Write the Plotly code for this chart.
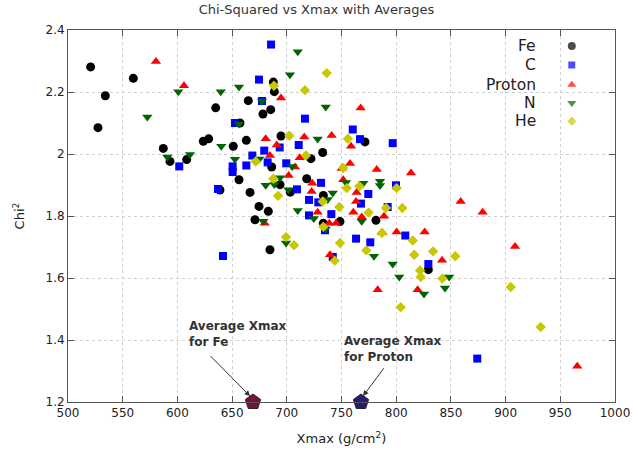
import plotly.graph_objects as go

# ---------------- data ----------------
series_names = ["Fe", "C", "Proton", "N", "He"]

fe_x = [520.7, 534.1, 527.4, 559.7, 587.1, 593.2, 608.5, 635.0, 623.7, 628.6, 651.1, 657.2, 664.8,
        687.7, 688.6, 685.3, 678.2, 663.0, 694.7, 732.8, 722.1, 686.2, 656.3, 693.8, 718.2, 703.2,
        638.9, 666.4, 733.4, 674.6, 683.1, 670.9, 684.6, 733.4, 748.6, 771.5, 781.5, 829.4]
fe_y = [2.281, 2.188, 2.085, 2.244, 2.018, 1.976, 1.982, 2.149, 2.041, 2.049, 2.025, 2.100, 2.172,
        2.232, 2.201, 2.143, 2.129, 2.044, 2.058, 2.005, 1.985, 1.958, 1.917, 1.901, 1.920, 1.877,
        1.884, 1.876, 1.866, 1.831, 1.815, 1.788, 1.691, 1.777, 1.782, 2.039, 1.786, 1.627]

c_x = [601.7, 652.6, 674.6, 677.3, 685.6, 716.6, 760.3, 693.5, 710.9, 668.5, 679.4, 682.5, 699.5,
       663.0, 650.5, 650.5, 731.3, 709.3, 637.1, 720.3, 728.8, 740.7, 720.3, 641.7, 734.9, 763.3,
       742.0, 766.9, 796.8, 799.8, 774.5, 767.8, 792.2, 808.3, 776.3, 829.4, 874.1]
c_y = [1.960, 2.100, 2.240, 2.171, 2.353, 2.114, 2.079, 2.021, 2.029, 1.995, 2.011, 1.973, 1.970,
       1.963, 1.960, 1.942, 1.907, 1.886, 1.887, 1.852, 1.844, 1.806, 1.802, 1.671, 1.754, 1.727,
       1.668, 2.048, 2.035, 1.899, 1.871, 1.840, 1.829, 1.737, 1.715, 1.645, 1.340]

p_x = [580.4, 606.0, 694.7, 716.0, 741.0, 758.7, 680.7, 690.8, 684.6, 711.8, 707.5, 701.7, 723.3,
       722.7, 728.2, 760.8, 679.8, 738.8, 745.0, 739.5, 767.5, 757.8, 782.2, 813.5, 750.2, 751.6,
       763.8, 763.3, 858.9, 879.0, 788.8, 768.5, 787.0, 800.4, 826.0, 841.9, 908.6, 783.1, 819.6, 965.5]
p_y = [2.298, 2.220, 2.181, 2.055, 2.060, 2.025, 2.049, 2.029, 1.995, 1.988, 1.958, 1.931, 1.906,
       1.879, 1.812, 1.812, 1.777, 1.777, 1.777, 1.675, 2.148, 1.969, 1.950, 1.939, 1.953, 1.917,
       1.876, 1.847, 1.847, 1.812, 1.799, 1.797, 1.747, 1.748, 1.748, 1.657, 1.702, 1.562, 1.562, 1.315]

n_x = [572.5, 590.8, 600.8, 611.5, 639.6, 656.3, 640.1, 656.3, 677.3, 710.0, 702.9, 735.6, 728.2,
       674.9, 652.6, 705.0, 680.7, 693.8, 688.6, 701.4, 742.0, 737.4, 710.0, 678.5, 699.3, 724.7,
       735.6, 754.1, 769.9, 785.2, 785.2, 768.5, 779.7, 796.8, 802.8, 848.4, 844.6, 825.4]
n_y = [2.119, 1.990, 2.201, 1.998, 2.201, 2.216, 2.025, 2.097, 2.171, 2.330, 2.256, 2.152, 2.048,
       1.984, 1.983, 1.960, 1.899, 1.923, 1.902, 1.885, 1.874, 1.853, 1.818, 1.783, 1.713, 1.792,
       1.758, 1.908, 1.906, 1.912, 1.898, 1.783, 1.670, 1.645, 1.603, 1.603, 1.568, 1.548]

he_x = [688.3, 716.6, 736.5, 702.3, 755.9, 717.5, 671.6, 687.7, 692.0, 732.8, 748.0, 699.3, 706.6,
        733.4, 748.6, 743.8, 751.6, 766.3, 754.8, 800.4, 774.8, 790.7, 805.6, 787.0, 815.1, 772.7,
        816.5, 833.7, 854.0, 821.8, 822.4, 842.2, 904.7, 804.1, 932.1]
he_y = [2.220, 2.206, 2.261, 2.059, 2.049, 1.995, 1.976, 1.920, 1.865, 1.847, 1.829, 1.732, 1.706,
        1.765, 1.713, 1.656, 1.955, 1.896, 1.890, 1.890, 1.811, 1.826, 1.826, 1.745, 1.721, 1.689,
        1.675, 1.686, 1.670, 1.624, 1.603, 1.598, 1.571, 1.506, 1.442]

avg_labels = ["Average Xmax<br>for Fe", "Average Xmax<br>for Proton"]
avg_x = [669.1, 767.8]
avg_y = [1.2, 1.2]

x_ticks = [500, 550, 600, 650, 700, 750, 800, 850, 900, 950, 1000]
y_ticks = [1.2, 1.4, 1.6, 1.8, 2.0, 2.2, 2.4]
y_tick_text = ["1.2", "1.4", "1.6", "1.8", "2", "2.2", "2.4"]

# ---------------- styles ----------------
colors = ["#000000", "#0000ff", "#ff0000", "#006400", "#c8c800"]
symbols = ["circle", "square", "triangle-up", "triangle-down", "diamond"]
sizes = [9, 8, 9, 9, 8]
avg_colors = ["#7a1040", "#2a1a78"]
FONT = "DejaVu Sans"

fig = go.Figure()
xs = [fe_x, c_x, p_x, n_x, he_x]
ys = [fe_y, c_y, p_y, n_y, he_y]
for name, x, y, col, sym, sz in zip(series_names, xs, ys, colors, symbols, sizes):
    fig.add_trace(go.Scatter(x=x, y=y, mode="markers", name=name, showlegend=False,
                             marker=dict(color=col, symbol=sym, size=sz, line=dict(width=0))))

# average markers
fig.add_trace(go.Scatter(x=avg_x, y=avg_y, mode="markers", showlegend=False, cliponaxis=False,
                         marker=dict(symbol="pentagon", size=16, color=avg_colors,
                                     line=dict(color="#222222", width=1))))

# manual legend (text right-aligned, marker to its right, like gnuplot)
leg_y = [0.957, 0.906, 0.853, 0.804, 0.755]
fig.add_trace(go.Scatter(x=[0.921] * 5, y=leg_y, xaxis="x2", yaxis="y2", mode="markers",
                         showlegend=False, hoverinfo="skip",
                         marker=dict(color=colors, symbol=symbols, size=[8, 7, 8, 8, 7],
                                     line=dict(width=0))))
annotations = []
for name, yy in zip(series_names, leg_y):
    annotations.append(dict(xref="paper", yref="paper", x=0.86, y=yy, text=name, showarrow=False,
                            xanchor="right", yanchor="middle",
                            font=dict(family=FONT, size=15.5, color="#222222")))

# callout texts and arrows
text_pos = [(608.8, 1.475), (750.5, 1.425)]
arrow_tail = [(628.9, 1.353), (789.8, 1.314)]
arrow_head = [(666.4, 1.219), (769.7, 1.219)]
for lab, (tx, ty), (axx, ayy), (hx, hy) in zip(avg_labels, text_pos, arrow_tail, arrow_head):
    annotations.append(dict(x=tx, y=ty, xref="x", yref="y", text="<b>" + lab + "</b>",
                            showarrow=False, xanchor="left", yanchor="top", align="left",
                            font=dict(family=FONT, size=12, color="#333333")))
    annotations.append(dict(x=hx, y=hy, xref="x", yref="y", ax=axx, ay=ayy, axref="x", ayref="y",
                            text="", showarrow=True, arrowhead=2, arrowsize=1.1, arrowwidth=1,
                            arrowcolor="#333333"))

axis_common = dict(showline=True, linecolor="#555555", linewidth=1, mirror="ticks",
                   ticks="inside", ticklen=6, tickcolor="#555555", automargin=False,
                   showgrid=True, gridcolor="#d0d0d0", griddash="dot", gridwidth=1,
                   zeroline=False, tickfont=dict(family=FONT, size=12, color="#222222"))

fig.update_layout(
    width=633, height=452,
    margin=dict(l=68, r=18, t=30, b=50),
    paper_bgcolor="white", plot_bgcolor="white",
    title=dict(text="Chi-Squared vs Xmax with Averages", x=0.5, xanchor="center",
               y=0.99, yanchor="top", font=dict(family=FONT, size=13, color="#333333")),
    xaxis=dict(range=[500, 1000], tickvals=x_ticks, title=dict(text="Xmax (g/cm<sup>2</sup>)",
               font=dict(family=FONT, size=13, color="#222222"), standoff=14), **axis_common),
    yaxis=dict(range=[1.2, 2.4], tickvals=y_ticks, ticktext=y_tick_text,
               title=dict(text="Chi<sup>2</sup>", font=dict(family=FONT, size=13, color="#222222"),
                          standoff=17), **axis_common),
    xaxis2=dict(overlaying="x", range=[0, 1], visible=False),
    yaxis2=dict(overlaying="y", range=[0, 1], visible=False),
    annotations=annotations,
)

fig.write_html("out.html")
